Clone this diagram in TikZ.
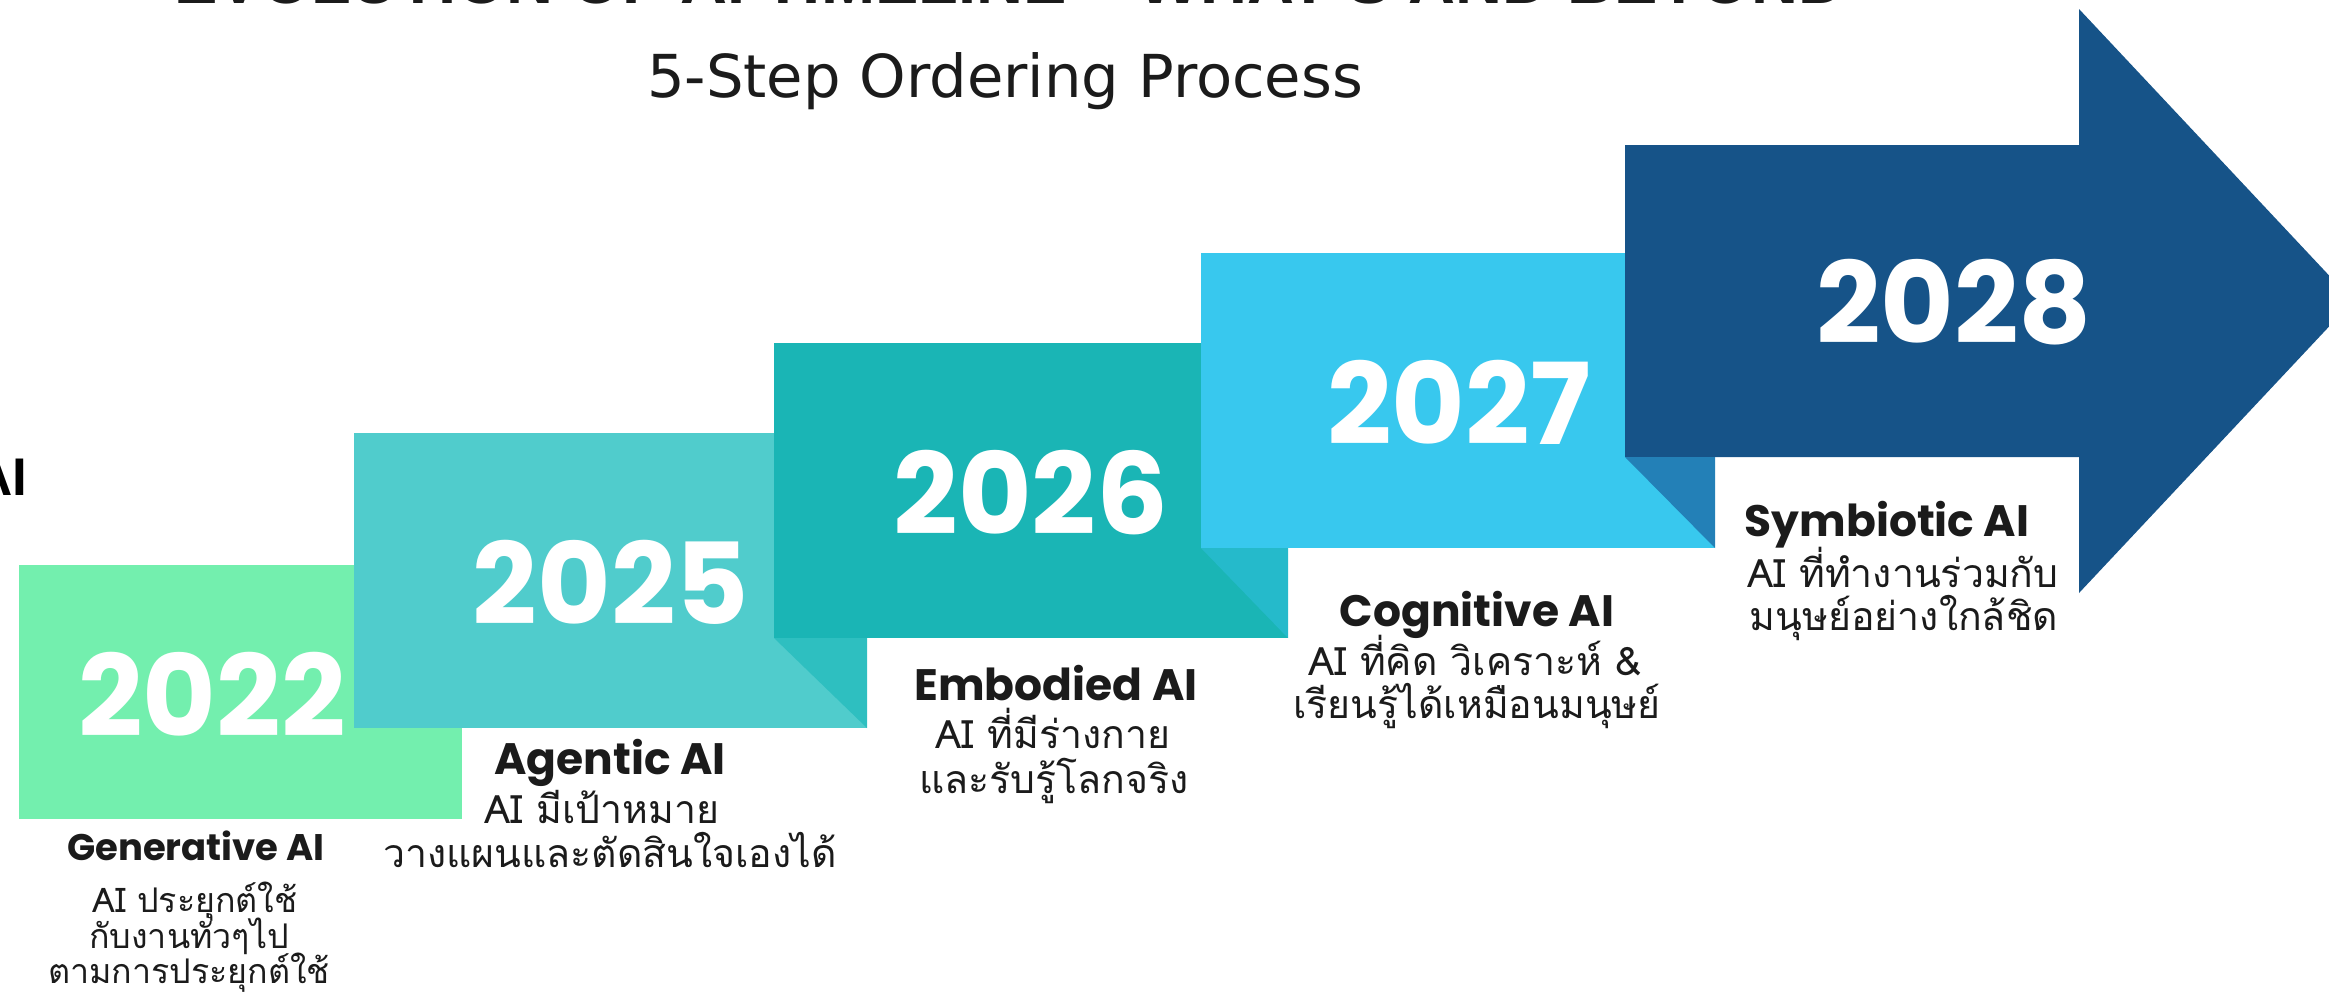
\documentclass[tikz,border=0pt]{standalone}
\usepackage{fontspec}
\setmainfont{Liberation Sans}
\newfontfamily\popfont{Poppins}
\newfontfamily\thaifont[Script=Thai]{Loma}
\newfontfamily\subfont{DejaVu Sans}
\definecolor{cGreen}{HTML}{73EFAE}
\definecolor{cTurq}{HTML}{50CCCC}
\definecolor{cTeal}{HTML}{1AB5B5}
\definecolor{cSky}{HTML}{38C8EE}
\definecolor{cNavy}{HTML}{165388}
\definecolor{fTeal}{HTML}{2EBFC0}
\definecolor{fSky}{HTML}{25BACB}
\definecolor{fNavy}{HTML}{2380B7}
\definecolor{ink}{HTML}{1B1B1B}
\tikzset{
  yearlbl/.style={anchor=base, inner sep=0pt, text=white, font=\popfont\bfseries\fontsize{56.5}{60}\selectfont},
  steplbl/.style={anchor=base, inner sep=0pt, text=ink, font=\popfont\bfseries\fontsize{22}{26}\selectfont},
  desclbl/.style={anchor=base, inner sep=0pt, text=ink, font=\thaifont\fontsize{19.6}{22}\selectfont},
  smalldesc/.style={desclbl, font=\thaifont\fontsize{17}{20}\selectfont},
}
\begin{document}
\begin{tikzpicture}[x=0.5pt,y=-0.5pt]
\path[use as bounding box] (0,0) rectangle (2329,997);
\clip (0,0) rectangle (2329,997);
% boxes
\fill[cGreen] (19,565) rectangle (462,819);
\fill[cTurq] (354,433) rectangle (867,728);
\fill[cTeal] (774,343) rectangle (1288,638);
\fill[fTeal] (774,638) -- (867,638) -- (867,728) -- cycle;
\fill[cSky] (1201,253) rectangle (1715,548);
\fill[fSky] (1201,548) -- (1288,548) -- (1288,638) -- cycle;
\fill[cNavy] (1625,145) -- (2079,145) -- (2079,9) -- (2353,301) -- (2079,593) -- (2079,457) -- (1625,457) -- cycle;
\fill[fNavy] (1625,457) -- (1715,457) -- (1715,548) -- cycle;
% titles
\node[anchor=base, inner sep=0pt, text=ink, font=\bfseries\fontsize{32.5}{36}\selectfont] (toptitle) at (1010,3) {EVOLUTION OF AI TIMELINE – WHAT'S AND BEYOND};
\node[anchor=base, inner sep=0pt, text=ink, font=\subfont\fontsize{29.6}{34}\selectfont] (subtitle) at (1005,97) {5-Step Ordering Process};
\node[anchor=base east, inner sep=0pt, text=black, font=\bfseries\fontsize{26.5}{30}\selectfont] (leftai) at (28,495) {AI};
% years
\node[yearlbl] (y2022) at (212,736) {2022};
\node[yearlbl] (y2025) at (611,624) {2025};
\node[yearlbl] (y2026) at (1031,534) {2026};
\node[yearlbl] (y2027) at (1459,444) {2027};
\node[yearlbl] (y2028) at (1954,343) {2028};
% step names
\node[steplbl, font=\popfont\bfseries\fontsize{18.5}{22}\selectfont] (n2022) at (196,860) {Generative AI};
\node[steplbl] (n2025) at (610,774) {Agentic AI};
\node[steplbl] (n2026) at (1056,700) {Embodied AI};
\node[steplbl] (n2027) at (1477,626) {Cognitive AI};
\node[steplbl] (n2028) at (1887,536) {Symbiotic AI};
% descriptions
\node[smalldesc] (d2022a) at (195,912) {AI ประยุกต์ใช้};
\node[smalldesc] (d2022b) at (189,948) {กับงานทั่วๆไป};
\node[smalldesc] (d2022c) at (189,983) {ตามการประยุกต์ใช้};
\node[desclbl] (d2025a) at (602,823) {AI มีเป้าหมาย};
\node[desclbl] (d2025b) at (610,867) {วางแผนและตัดสินใจเองได้};
\node[desclbl] (d2026a) at (1053,748) {AI ที่มีร่างกาย};
\node[desclbl] (d2026b) at (1054,793) {และรับรู้โลกจริง};
\node[desclbl] (d2027a) at (1475,675) {AI ที่คิด วิเคราะห์ \&};
\node[desclbl] (d2027b) at (1477,718) {เรียนรู้ได้เหมือนมนุษย์};
\node[desclbl] (d2028a) at (1903,587) {AI ที่ทำงานร่วมกับ};
\node[desclbl] (d2028b) at (1904,630) {มนุษย์อย่างใกล้ชิด};
\end{tikzpicture}
\end{document}
